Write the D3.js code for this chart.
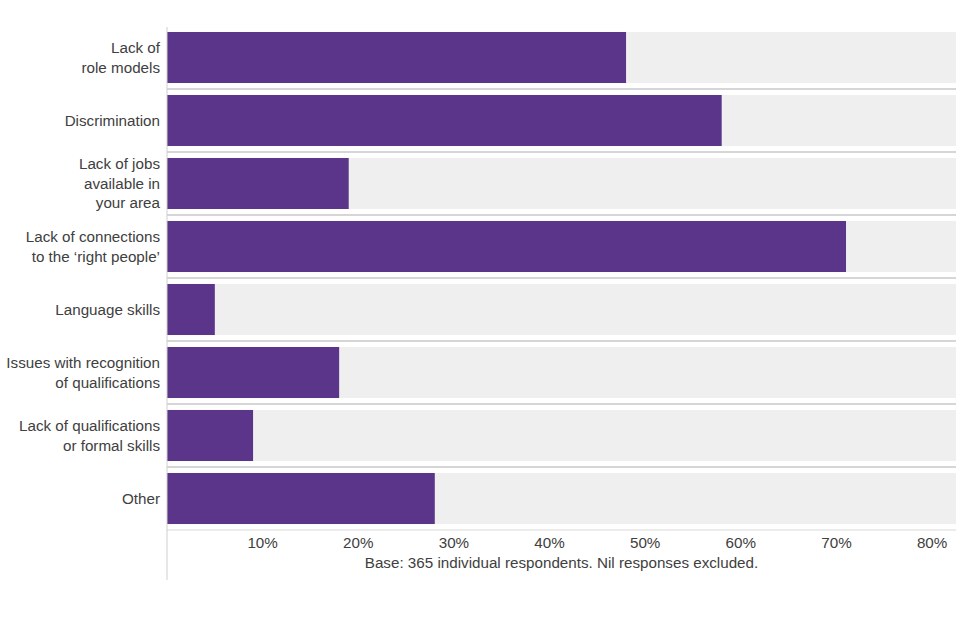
<!DOCTYPE html>
<html>
<head>
<meta charset="utf-8">
<script src="https://cdn.jsdelivr.net/npm/d3@7"></script>
<style>
  body { margin: 0; background: #fff; }
  svg { font-family: "Liberation Sans", Arial, sans-serif; }
</style>
</head>
<body>
<svg id="chart" width="960" height="640"></svg>
<script>
// barrier categories, each label split into lines as in the source
const categories = [
    ['Lack of', 'role models'],
    ['Discrimination'],
    ['Lack of jobs', 'available in', 'your area'],
    ['Lack of connections', 'to the \u2018right people\u2019'],
    ['Language skills'],
    ['Issues with recognition', 'of qualifications'],
    ['Lack of qualifications', 'or formal skills'],
    ['Other'],
];
const values = [0.48, 0.58, 0.19, 0.71, 0.05, 0.18, 0.09, 0.28];
const ticks = [0.1, 0.2, 0.3, 0.4, 0.5, 0.6, 0.7, 0.8];
const note = 'Base: 365 individual respondents. Nil responses excluded.';

const svg = d3.select('#chart');

const plotLeft = 167;
const plotRight = 956;
const plotTop = 26;
const plotBottom = 530;
const fontSize = '15.2px';
const textColor = '#404040';

const x = d3.scaleLinear()
    .domain([0, 0.825])
    .range([plotLeft, plotRight]);

const y = d3.scaleBand()
    .domain(d3.range(categories.length))
    .range([plotTop, plotBottom])
    .paddingInner(0.19)
    .paddingOuter(0.095);

const step = y.step();

// grey background bars
svg.selectAll('.bg')
    .data(values)
    .enter()
    .append('rect')
    .attr('x', x(0))
    .attr('y', (d, i) => y(i))
    .attr('width', x(0.825) - x(0))
    .attr('height', y.bandwidth())
    .style('fill', '#efefef');

// separators between rows
svg.selectAll('.sep')
    .data(d3.range(1, categories.length))
    .enter()
    .append('line')
    .attr('x1', x(0))
    .attr('x2', plotRight)
    .attr('y1', (d) => y(d) - (step - y.bandwidth()) / 2)
    .attr('y2', (d) => y(d) - (step - y.bandwidth()) / 2)
    .style('stroke', '#c8c8c8')
    .style('stroke-width', 1.5);

svg.append('line')
    .attr('x1', x(0))
    .attr('x2', plotRight)
    .attr('y1', plotBottom)
    .attr('y2', plotBottom)
    .style('stroke', '#ececec')
    .style('stroke-width', 2);

// data bars
svg.selectAll('.bar')
    .data(values)
    .enter()
    .append('rect')
    .attr('x', x(0))
    .attr('y', (d, i) => y(i))
    .attr('width', (d) => x(d) - x(0))
    .attr('height', y.bandwidth())
    .style('fill', '#5b3589');

// left axis line
svg.append('line')
    .attr('x1', plotLeft)
    .attr('x2', plotLeft)
    .attr('y1', 27)
    .attr('y2', 580)
    .style('stroke', '#cfcfcf')
    .style('stroke-width', 1);

// category labels
const lineH = 19.5;
svg.selectAll('.label')
    .data(categories)
    .enter()
    .append('text')
    .attr('text-anchor', 'end')
    .style('font-size', fontSize)
    .style('fill', textColor)
    .each(function (d, i) {
        const cy = y(i) + y.bandwidth() / 2;
        const y0 = cy - (d.length - 1) * lineH / 2;
        d3.select(this).selectAll('tspan')
            .data(d)
            .enter()
            .append('tspan')
            .attr('x', 160)
            .attr('y', (t, j) => y0 + j * lineH)
            .attr('dy', '0.35em')
            .text((t) => t);
    });

// x tick labels
svg.selectAll('.tick')
    .data(ticks)
    .enter()
    .append('text')
    .attr('x', (d) => x(d))
    .attr('y', 548)
    .attr('text-anchor', 'middle')
    .style('font-size', fontSize)
    .style('fill', textColor)
    .text(d3.format('.0%'));

svg.append('text')
    .attr('x', (plotLeft + plotRight) / 2)
    .attr('y', 568)
    .attr('text-anchor', 'middle')
    .style('font-size', fontSize)
    .style('fill', textColor)
    .text(note);
</script>
</body>
</html>
